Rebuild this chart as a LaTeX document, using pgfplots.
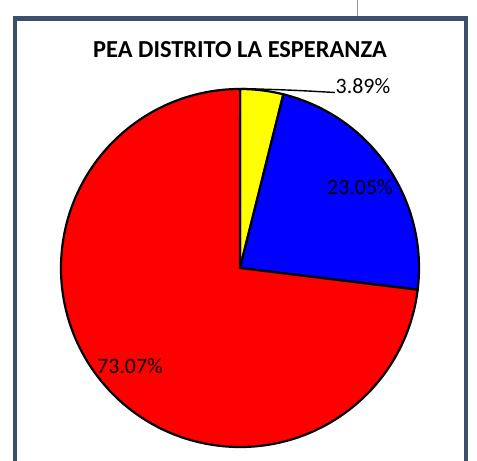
\documentclass[border=0pt]{standalone}
\usepackage{pgfplots}
\pgfplotsset{compat=1.18}
\usepackage{fontspec}
\setmainfont{Carlito}
\definecolor{frame}{HTML}{3B4F6E}
\definecolor{pyellow}{HTML}{FFFF00}
\definecolor{pblue}{HTML}{0000FF}
\definecolor{pred}{HTML}{FF0000}
\begin{document}
\begin{tikzpicture}
\begin{axis}[
  width=477bp, height=461bp, scale only axis,
  xmin=0, xmax=477, ymin=0, ymax=461,
  hide axis, clip=false, disabledatascaling,
]
% frame (pixel coordinates, y up)
\draw[gray!80, line width=1.6bp] (axis cs:357.5,461) -- (axis cs:357.5,443);
\draw[frame, line width=4.8bp] (axis cs:15,-2) -- (axis cs:15,442.5) -- (axis cs:466,442.5) -- (axis cs:466,-2);
% title
\node[font=\bfseries\fontsize{24.5}{28}\selectfont] at (axis cs:240,411) {PEA DISTRITO LA ESPERANZA};
% pie: values 3.89, 23.05, 73.07 percent, clockwise from 90 degrees
\filldraw[fill=pyellow, draw=black, line width=2.2bp, line join=round] (axis cs:240,193) -- ++({90}:179) arc[start angle={90}, end angle={90-3.89*3.6}, radius=179] -- cycle;
\filldraw[fill=pblue, draw=black, line width=2.2bp, line join=round] (axis cs:240,193) -- ++({90-3.89*3.6}:179) arc[start angle={90-3.89*3.6}, end angle={90-(3.89+23.05)*3.6}, radius=179] -- cycle;
\filldraw[fill=pred, draw=black, line width=2.2bp, line join=round] (axis cs:240,193) -- ++({90-(3.89+23.05)*3.6}:179) arc[start angle={90-(3.89+23.05)*3.6}, end angle={90-(3.89+23.05+73.07)*3.6}, radius=179] -- cycle;
% labels
\draw[black, line width=1.4bp] (axis cs:241,372.5) .. controls (axis cs:290,371) .. (axis cs:335,368.5);
\node[font=\fontsize{22}{24}\selectfont, text=black] at (axis cs:363,375) {3.89\%};
\node[font=\fontsize{22}{24}\selectfont, text=black] at (axis cs:360,274) {23.05\%};
\node[font=\fontsize{22}{24}\selectfont, text=black] at (axis cs:130,95) {73.07\%};
\end{axis}
\pgfresetboundingbox
\useasboundingbox (0,0) rectangle (477bp,461bp);
\end{tikzpicture}
\end{document}
